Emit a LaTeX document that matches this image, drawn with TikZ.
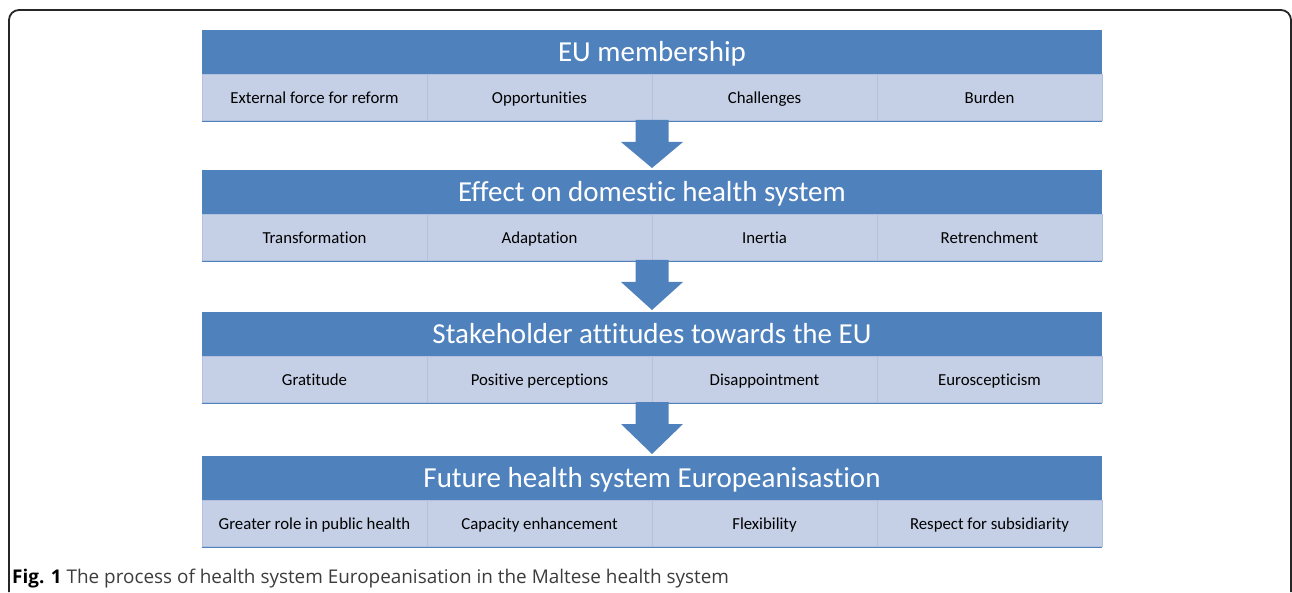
\documentclass[tikz,border=0pt]{standalone}
\usepackage{fontspec}
\setmainfont{Carlito}[Ligatures=NoCommon]
\newfontfamily\capfont{Open Sans}
\usetikzlibrary{positioning,calc}
\definecolor{hdrblue}{RGB}{79,129,189}
\definecolor{cellblue}{RGB}{197,208,230}
\definecolor{cellline}{RGB}{178,193,222}
\definecolor{capgray}{RGB}{60,60,60}
\tikzset{
  hdr/.style={fill=hdrblue, text=white, minimum width=900pt, minimum height=44pt,
    inner sep=0pt, outer sep=0pt, text height=23pt, text depth=4pt,
    font=\fontsize{29}{33}\selectfont},
  cell/.style={fill=cellblue, draw=cellline, line width=0.8pt, minimum width=225pt,
    minimum height=46pt, inner sep=0pt, outer sep=0pt, text height=17pt, text depth=3.5pt,
    font=\fontsize{16.8}{20}\selectfont},
}
% down arrow between two rows
\newcommand{\rowarrow}[2]{%
  \fill[hdrblue] ($(#1.south east)+(-16.5,0)$) -- ($(#1.south east)+(16.5,0)$)
    -- ($(#1.south east)+(16.5,-22)$) -- ($(#1.south east)+(31,-22)$)
    -- ($(#2.north)+(0,2)$) -- ($(#1.south east)+(-31,-22)$)
    -- ($(#1.south east)+(-16.5,-22)$) -- cycle;}

\begin{document}
\begin{tikzpicture}[x=1pt, y=1pt, node distance=0pt]
    \useasboundingbox (0,0) rectangle (1292,592);
    % Draw frame
    \draw[line width=1.8pt, black!85] (9,0) -- (9,572) arc (180:90:10) -- (1281,582)
        arc (90:0:10) -- (1291,0);
    % Row 1
    \node[hdr] (h_1) at (652,540) {EU membership};
    \fill[hdrblue] ($(h_1.south west)+(0,-48)$) rectangle (h_1.south east);
    \node[cell, below right=0pt of h_1.south west] (c_11) {External force for reform};
    \node[cell, right=of c_11] (c_12) {Opportunities};
    \node[cell, right=of c_12] (c_13) {Challenges};
    \node[cell, right=of c_13] (c_14) {Burden};
    % Row 2
    \node[hdr, below=50pt of c_12.south east] (h_2) {Effect on domestic health system};
    \fill[hdrblue] ($(h_2.south west)+(0,-48)$) rectangle (h_2.south east);
    \node[cell, below right=0pt of h_2.south west] (c_21) {Transformation};
    \node[cell, right=of c_21] (c_22) {Adaptation};
    \node[cell, right=of c_22] (c_23) {Inertia};
    \node[cell, right=of c_23] (c_24) {Retrenchment};
    % Row 3
    \node[hdr, below=52pt of c_22.south east] (h_3) {Stakeholder attitudes towards the EU};
    \fill[hdrblue] ($(h_3.south west)+(0,-48)$) rectangle (h_3.south east);
    \node[cell, below right=0pt of h_3.south west] (c_31) {Gratitude};
    \node[cell, right=of c_31] (c_32) {Positive perceptions};
    \node[cell, right=of c_32] (c_33) {Disappointment};
    \node[cell, right=of c_33] (c_34) {Euroscepticism};
    % Row 4
    \node[hdr, below=54pt of c_32.south east] (h_4) {Future health system Europeanisastion};
    \fill[hdrblue] ($(h_4.south west)+(0,-48)$) rectangle (h_4.south east);
    \node[cell, below right=0pt of h_4.south west] (c_41) {Greater role in public health};
    \node[cell, right=of c_41] (c_42) {Capacity enhancement};
    \node[cell, right=of c_42] (c_43) {Flexibility};
    \node[cell, right=of c_43] (c_44) {Respect for subsidiarity};
    % Draw arrows
    \rowarrow{c_12}{h_2}
    \rowarrow{c_22}{h_3}
    \rowarrow{c_32}{h_4}
    % Caption
    \node[anchor=base west, inner sep=0pt, text=capgray, font=\capfont\fontsize{18.9}{22}\selectfont]
        (cap) at (12,9) {\textcolor{black}{\textbf{Fig. 1}} The process of health system Europeanisation in the Maltese health system};
\end{tikzpicture}
\end{document}
